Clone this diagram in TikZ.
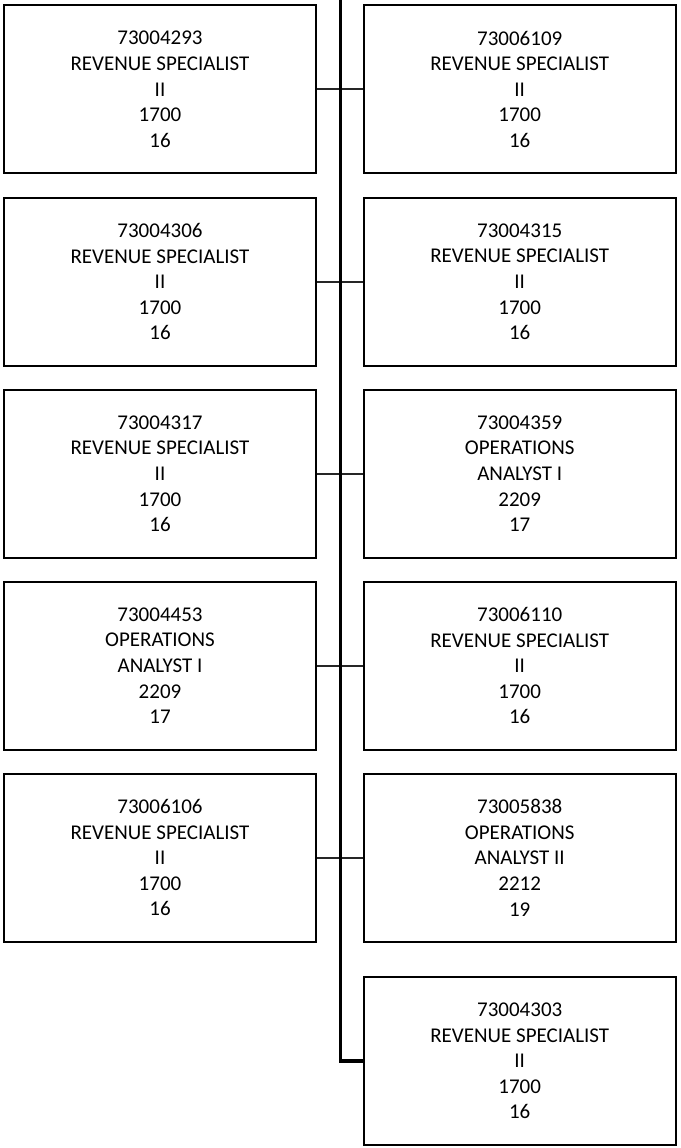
\documentclass[tikz,border=0pt]{standalone}
\usepackage{fontspec}
\setmainfont{Carlito}
\begin{document}
\begin{tikzpicture}[x=1pt,y=-1pt,
  posbox/.style={draw=black,line width=2pt,fill=white,minimum width=312pt,minimum height=168pt,
    inner sep=0pt,align=center,font=\fontsize{21}{25.6}\selectfont},
  trunk/.style={draw=black,line width=3.5pt},
  branch/.style={draw=black!85,line width=1.8pt}]
\useasboundingbox (0,0) rectangle (680,1148);

% left column
\node[posbox] (L1) at (160,89.3) {73004293\\REVENUE SPECIALIST\\II\\1700\\16};
\node[posbox] (L2) at (160,281.7) {73004306\\REVENUE SPECIALIST\\II\\1700\\16};
\node[posbox] (L3) at (160,473.7) {73004317\\REVENUE SPECIALIST\\II\\1700\\16};
\node[posbox] (L4) at (160,665.7) {73004453\\OPERATIONS\\ANALYST I\\2209\\17};
\node[posbox] (L5) at (160,857.7) {73006106\\REVENUE SPECIALIST\\II\\1700\\16};

% right column
\node[posbox] (R1) at (519.7,89.3) {73006109\\REVENUE SPECIALIST\\II\\1700\\16};
\node[posbox] (R2) at (519.7,281.7) {73004315\\REVENUE SPECIALIST\\II\\1700\\16};
\node[posbox] (R3) at (519.7,473.7) {73004359\\OPERATIONS\\ANALYST I\\2209\\17};
\node[posbox] (R4) at (519.7,665.7) {73006110\\REVENUE SPECIALIST\\II\\1700\\16};
\node[posbox] (R5) at (519.7,857.7) {73005838\\OPERATIONS\\ANALYST II\\2212\\19};
\node[posbox] (R6) at (519.7,1061) {73004303\\REVENUE SPECIALIST\\II\\1700\\16};

% branches across the trunk
\foreach \i in {1,...,5} {
  \draw[branch] (L\i.east) -- (R\i.west);
}

% trunk coming down from above, ending in the last box
\coordinate (top) at (340.3,0);
\draw[trunk] (top) |- (R6.west);
\end{tikzpicture}
\end{document}
